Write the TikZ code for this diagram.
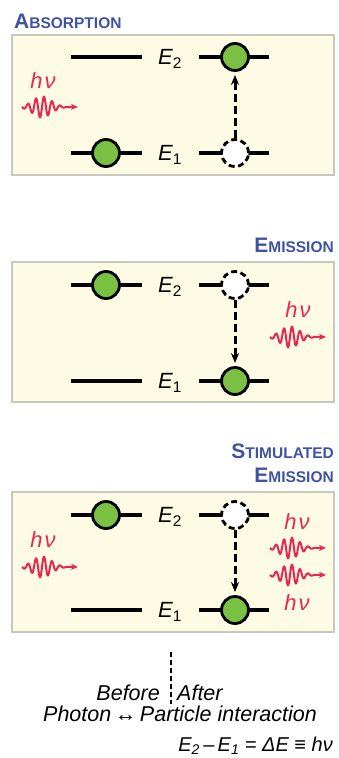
\documentclass[tikz,border=0pt]{standalone}
\usepackage{fontspec}
\setmainfont{Liberation Sans}
\usetikzlibrary{arrows.meta}
\definecolor{titleblue}{RGB}{62,84,163}
\definecolor{photonred}{RGB}{230,40,80}
\definecolor{electrongreen}{RGB}{122,192,66}
\definecolor{panelfill}{RGB}{253,251,228}
\definecolor{panelgrey}{RGB}{200,200,188}
\newcommand{\boxtitle}[2]{{\bfseries\fontsize{21}{22}\selectfont #1\fontsize{15.5}{16}\selectfont #2}}
\newcommand{\hnu}{\textit{h\kern2pt ν}}
\newcommand{\photon}[1]{%
  \draw[photonline,shift={#1}] plot[domain=0:46,samples=160,smooth]
    (\x,{10.5*exp(-((\x-20)/13)^2)*sin(\x*45)}) -- (56,0);}

\begin{document}
\begin{tikzpicture}[x=1pt,y=-1pt,>=Stealth,
    panel/.style={draw=panelgrey,fill=panelfill,line width=2pt},
    level/.style={line width=4pt,line cap=butt},
    electron/.style={circle,draw=black,line width=2.8pt,fill=electrongreen,minimum size=27pt,inner sep=0pt},
    hole/.style={electron,fill=white,dash pattern=on 6pt off 3.5pt},
    transition/.style={line width=3pt,dash pattern=on 8pt off 4pt,shorten >=3pt,-{Stealth[length=10pt,width=8pt]}},
    photonline/.style={photonred,line width=2pt,-{Stealth[length=7pt,width=6pt]}},
    lvl/.style={font=\fontsize{22}{24}\selectfont,inner sep=0pt},
    hv/.style={text=photonred,font=\fontsize{22}{24}\selectfont,inner sep=0pt},
    title/.style={text=titleblue,inner sep=0pt},
    caption/.style={font=\fontsize{21.5}{24}\selectfont\itshape,inner sep=0pt}]
  \useasboundingbox (0,0) rectangle (339,758);

  % absorption
  \node[title,anchor=base west] (absTitle) at (14,28) {\boxtitle{A}{BSORPTION}};
  \draw[panel] (12,35) rectangle (334,175);
  \draw[level] (71,57) -- (142,57);
  \draw[level] (199,57) -- (269,57);
  \draw[level] (71,153) -- (142,153);
  \draw[level] (199,153) -- (269,153);
  \node[lvl] (absEtwo) at (170,59) {\textit{E}\textsubscript{2}};
  \node[lvl] (absEone) at (170,155) {\textit{E}\textsubscript{1}};
  \node[electron] (absLow) at (106,153) {};
  \node[electron] (absHigh) at (235,57) {};
  \node[hole] (absHole) at (235,153) {};
  \draw[transition] (absHole) -- (absHigh);
  \node[hv] (absHv) at (43,81) {\hnu};
  \photon{(22,107)}

  % emission
  \node[title,anchor=base east] (emiTitle) at (334,252) {\boxtitle{E}{MISSION}};
  \draw[panel] (12,262) rectangle (334,402);
  \draw[level] (71,285) -- (142,285);
  \draw[level] (199,285) -- (269,285);
  \draw[level] (71,381) -- (142,381);
  \draw[level] (199,381) -- (269,381);
  \node[lvl] (emiEtwo) at (170,287) {\textit{E}\textsubscript{2}};
  \node[lvl] (emiEone) at (170,383) {\textit{E}\textsubscript{1}};
  \node[electron] (emiHigh) at (106,285) {};
  \node[hole] (emiHole) at (235,285) {};
  \node[electron] (emiLow) at (235,381) {};
  \draw[transition] (emiHole) -- (emiLow);
  \node[hv] (emiHv) at (298,310) {\hnu};
  \photon{(270,337)}

  % stimulated emission
  \node[title,anchor=base east] (stiTitle) at (334,458) {\boxtitle{S}{TIMULATED}};
  \node[title,anchor=base east] (stiTitleb) at (334,482) {\boxtitle{E}{MISSION}};
  \draw[panel] (12,492) rectangle (334,632);
  \draw[level] (71,515) -- (142,515);
  \draw[level] (199,515) -- (269,515);
  \draw[level] (71,610) -- (142,610);
  \draw[level] (199,610) -- (269,610);
  \node[lvl] (stiEtwo) at (170,517) {\textit{E}\textsubscript{2}};
  \node[lvl] (stiEone) at (170,612) {\textit{E}\textsubscript{1}};
  \node[electron] (stiHigh) at (106,515) {};
  \node[hole] (stiHole) at (235,515) {};
  \node[electron] (stiLow) at (235,610) {};
  \draw[transition] (stiHole) -- (stiLow);
  \node[hv] (stiHvIn) at (43,540) {\hnu};
  \photon{(22,567)}
  \node[hv] (stiHvA) at (297,522) {\hnu};
  \photon{(270,548)}
  \photon{(270,575)}
  \node[hv] (stiHvB) at (297,603) {\hnu};

  % caption
  \draw[line width=1.2pt,dash pattern=on 4.5pt off 3.5pt] (171,652) -- (171,704);
  \node[caption,anchor=base east] (before) at (160,700) {Before};
  \node[caption,anchor=base west] (after) at (177,700) {After};
  \node[caption,anchor=base] (interaction) at (180,721) {Photon\,↔\,Particle interaction};
  \node[caption,anchor=base east,font=\fontsize{20}{22}\selectfont\itshape] (energy) at (333,751)
    {E\textsubscript{2}\,–\,E\textsubscript{1} = ΔE ≡ hν};
\end{tikzpicture}
\end{document}
